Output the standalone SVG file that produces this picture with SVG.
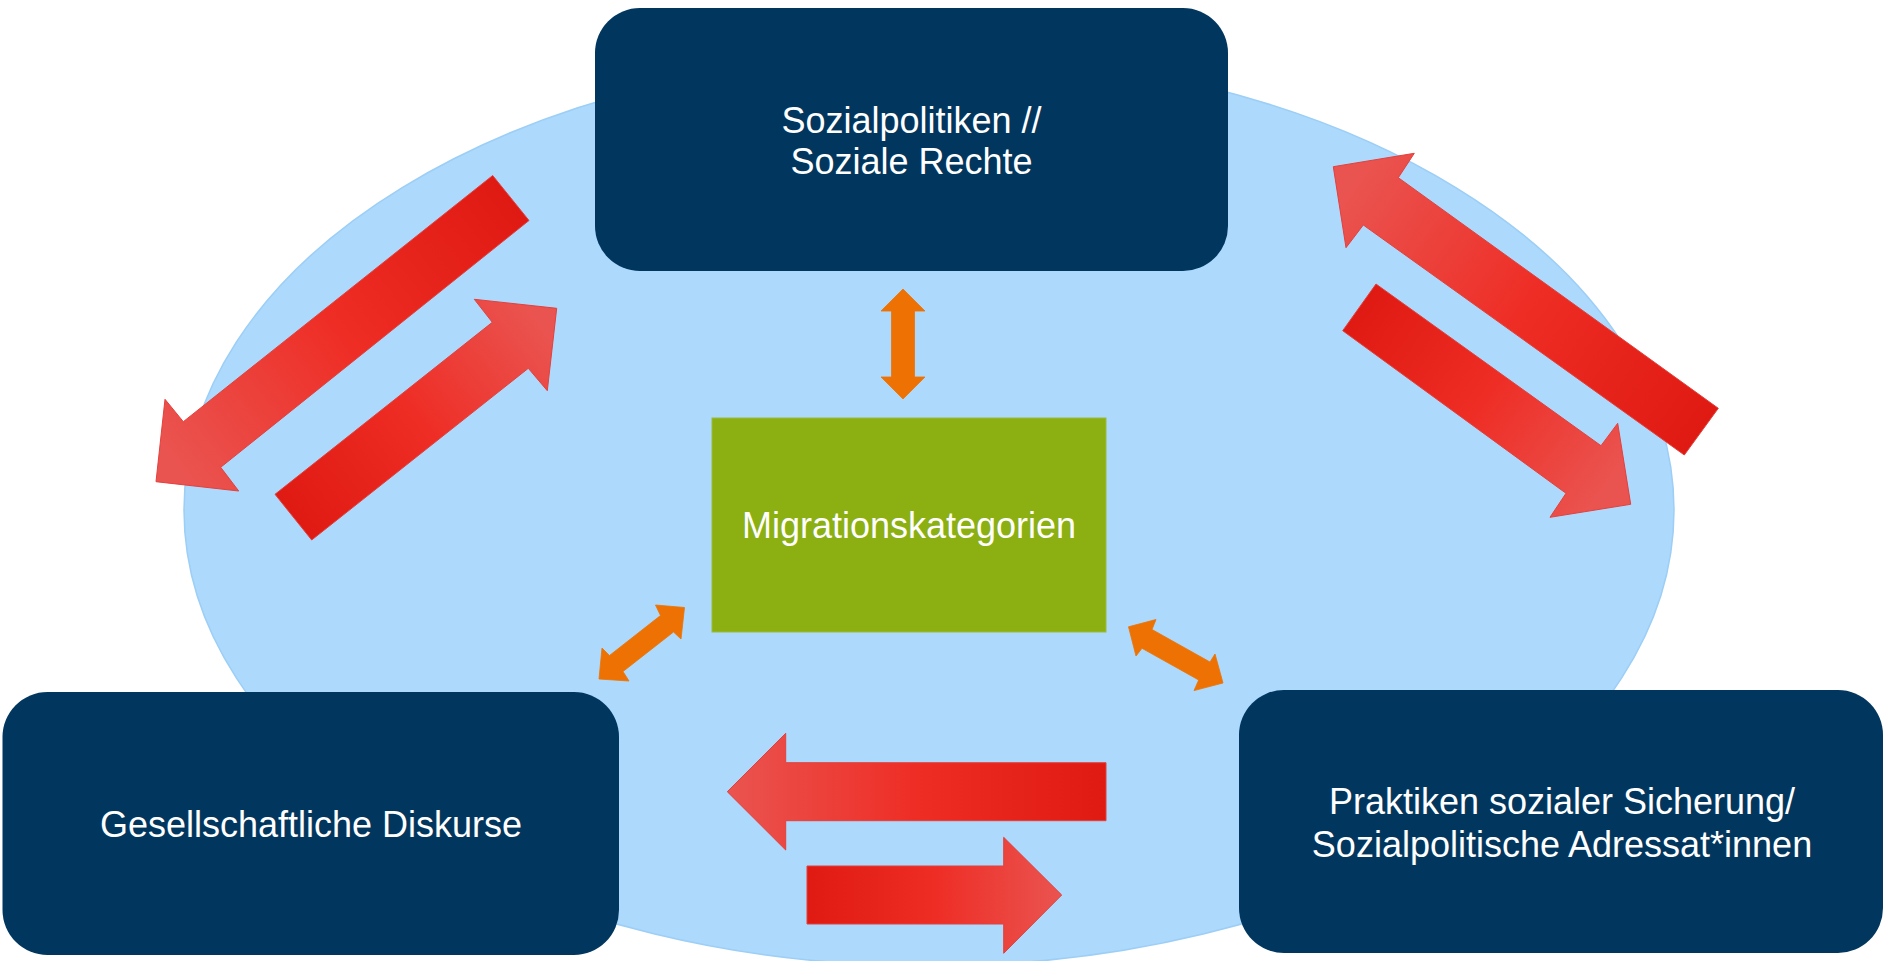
<svg xmlns="http://www.w3.org/2000/svg" width="1883" height="961" viewBox="0 0 1883 961">
<style>
.box{fill:#01365E}
.lbl{font-family:"Liberation Sans",Arial,sans-serif;font-size:36px;fill:#FFFFFF;text-anchor:middle}
.red{stroke:#E4403C;stroke-width:1;stroke-linejoin:miter}
.orange{fill:#EE7203;stroke:#EE7203;stroke-width:0.8}
</style>
<defs>
<linearGradient id="gA" gradientUnits="userSpaceOnUse" x1="511" y1="198" x2="170" y2="460"><stop offset="0" stop-color="#DF1A12"/><stop offset="0.5" stop-color="#EE2D25"/><stop offset="1" stop-color="#EA5450"/></linearGradient>
<linearGradient id="gB" gradientUnits="userSpaceOnUse" x1="293" y1="517" x2="540" y2="320"><stop offset="0" stop-color="#DF1A12"/><stop offset="0.5" stop-color="#EE2D25"/><stop offset="1" stop-color="#EA5450"/></linearGradient>
<linearGradient id="gC" gradientUnits="userSpaceOnUse" x1="1701" y1="432" x2="1350" y2="185"><stop offset="0" stop-color="#DF1A12"/><stop offset="0.5" stop-color="#EE2D25"/><stop offset="1" stop-color="#EA5450"/></linearGradient>
<linearGradient id="gD" gradientUnits="userSpaceOnUse" x1="1359" y1="307" x2="1610" y2="485"><stop offset="0" stop-color="#DF1A12"/><stop offset="0.5" stop-color="#EE2D25"/><stop offset="1" stop-color="#EA5450"/></linearGradient>
<linearGradient id="gE" gradientUnits="userSpaceOnUse" x1="1106" y1="0" x2="727" y2="0"><stop offset="0" stop-color="#DF1A12"/><stop offset="0.5" stop-color="#EE2D25"/><stop offset="1" stop-color="#EA5450"/></linearGradient>
<linearGradient id="gF" gradientUnits="userSpaceOnUse" x1="807" y1="0" x2="1062" y2="0"><stop offset="0" stop-color="#DF1A12"/><stop offset="0.5" stop-color="#EE2D25"/><stop offset="1" stop-color="#EA5450"/></linearGradient>
</defs>
<rect width="1883" height="961" fill="#FFFFFF"/>
<ellipse id="background" cx="929" cy="510" rx="745" ry="456" fill="#ACD9FC" stroke="#9CCEF6" stroke-width="1.5"/>
<g id="connectors">
<polygon class="red" fill="url(#gA)" points="492.7,175.5 529,220.5 220.7,467.3 238.7,491 156,481.7 165,399.3 183.3,421.7"/>
<polygon class="red" fill="url(#gB)" points="275,494.3 311.7,540 528.3,368.3 547.3,390.7 556.7,308.3 474.3,299.3 492.3,322.3"/>
<polygon class="red" fill="url(#gC)" points="1333.3,166.7 1414.3,153.3 1398.3,177.7 1718.3,408.3 1684.3,455 1363.3,225 1346,247.7"/>
<polygon class="red" fill="url(#gD)" points="1376,284 1601,445.7 1617.7,423.3 1630.7,504.3 1550,517.3 1566,493.3 1342.7,330.7"/>
<polygon class="red" fill="url(#gE)" points="727.3,791.7 785.7,733.3 785.7,762.7 1106,762.7 1106,820.7 785.7,820.7 785.7,850"/>
<polygon class="red" fill="url(#gF)" points="807,866 1003.7,866 1003.7,837.3 1061.7,895 1003.7,953.3 1003.7,924 807,924"/>
<polygon class="orange" points="903,289 925,311 914.5,311 914.5,377 925,377 903,399 881,377 891.5,377 891.5,311 881,311"/>
<polygon class="orange" points="684.5,607.5 681,639 673.5,632 623,671.5 629,681 599,679 602,648 609.5,655.5 660.5,615.5 655.5,605"/>
<polygon class="orange" points="1128.5,626.8 1156,619.5 1152,629.5 1210,662 1215,654 1223,683 1194,690.6 1198.7,680 1142,648.3 1136,656"/>
</g>
<g id="node-sozialpolitiken">
<rect class="box" x="595" y="8" width="633" height="263" rx="45" ry="45"/>
<text class="lbl" x="911.5" y="133">Sozialpolitiken //</text>
<text class="lbl" x="911.5" y="174">Soziale Rechte</text>
</g>
<g id="node-migrationskategorien">
<rect x="712" y="418" width="394" height="214" fill="#8CAF12" stroke="#9BBB3A" stroke-width="1"/>
<text class="lbl" x="909" y="538">Migrationskategorien</text>
</g>
<g id="node-diskurse">
<rect class="box" x="2.5" y="692" width="616.5" height="263" rx="45" ry="45"/>
<text class="lbl" x="311" y="837">Gesellschaftliche Diskurse</text>
</g>
<g id="node-praktiken">
<rect class="box" x="1239" y="690" width="644" height="263" rx="45" ry="45"/>
<text class="lbl" x="1562" y="814">Praktiken sozialer Sicherung/</text>
<text class="lbl" x="1562" y="857">Sozialpolitische Adressat*innen</text>
</g>
</svg>
